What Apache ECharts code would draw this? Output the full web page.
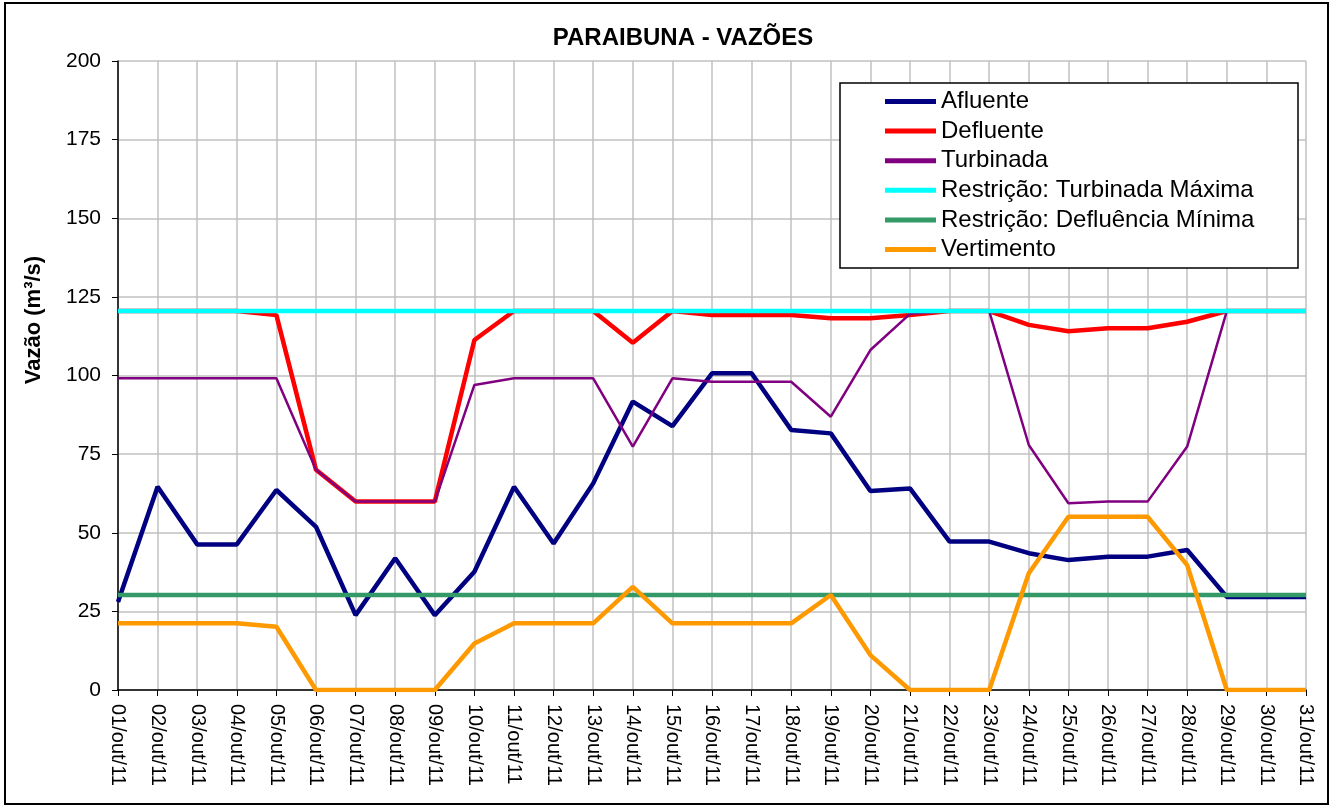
<!DOCTYPE html>
<html lang="pt">
  <head>
    <meta charset="UTF-8" />
    <title>Paraibuna - Vazões</title>
    <script src="https://cdn.jsdelivr.net/npm/echarts@6/dist/echarts.min.js"></script>
    <style>
      html, body { margin: 0; padding: 0; background: #fff; }
      #main { width: 1338px; height: 809px; }
    </style>
  </head>
  <body>
    <div id="main"></div>
    <script type="text/javascript">
      // dias de outubro/2011
      var dias = [];
      for (var d = 1; d <= 31; d++) {
        dias.push((d < 10 ? "0" + d : "" + d) + "/out/11");
      }

      var afluente = [28, 64.6, 46.3, 46.3, 63.6, 51.9, 23.8, 41.9, 23.8, 37.6,
        64.6, 46.6, 65.7, 91.7, 83.9, 100.7, 100.7, 82.7, 81.6, 63.3,
        64.1, 47.2, 47.2, 43.5, 41.3, 42.4, 42.4, 44.5, 29.6, 29.6, 29.6];
      var defluente = [120.5, 120.5, 120.5, 120.5, 119.2, 70, 59.9, 59.9, 59.9, 111.3,
        120.5, 120.5, 120.5, 110.4, 120.5, 119.2, 119.2, 119.2, 118.2, 118.2,
        119.2, 120.5, 120.5, 116.1, 114.1, 115, 115, 117.1, 120.5, 120.5, 120.5];
      var turbinada = [99.1, 99.1, 99.1, 99.1, 99.1, 70, 59.9, 59.9, 59.9, 97,
        99.1, 99.1, 99.1, 77.4, 99.1, 98, 98, 98, 86.9, 108.1,
        119.6, 120.5, 120.5, 77.9, 59.4, 59.9, 59.9, 77.4, 120.5, 120.5, 120.5];
      var turbMaxima = [];
      var deflMinima = [];
      for (var i = 0; i < 31; i++) {
        turbMaxima.push(120.5);
        deflMinima.push(30.2);
      }
      var vertimento = [21.2, 21.2, 21.2, 21.2, 20.1, 0, 0, 0, 0, 14.8,
        21.2, 21.2, 21.2, 32.8, 21.2, 21.2, 21.2, 21.2, 30.2, 11.1,
        0, 0, 0, 37.1, 55.1, 55.1, 55.1, 39.7, 0, 0, 0];

      var fonte = "Liberation Sans, Arial, sans-serif";

      function serie(nome, dados, cor, largura) {
        return {
          name: nome,
          type: "line",
          data: dados,
          symbol: "none",
          smooth: false,
          lineStyle: { color: cor, width: largura },
          itemStyle: { color: cor },
          animation: false
        };
      }

      var myChart = echarts.init(document.getElementById("main"));
      myChart.setOption({
        backgroundColor: "#fff",
        animation: false,
        textStyle: { fontFamily: fonte },
        grid: { left: 118, right: 32, top: 61, bottom: 119 },
        graphic: [
          {
            type: "rect",
            shape: { x: 5, y: 3, width: 1323, height: 801 },
            style: { fill: "none", stroke: "#000", lineWidth: 2 },
            z: 1
          },
          {
            type: "text",
            style: {
              text: "PARAIBUNA - VAZÕES",
              x: 683, y: 38,
              align: "center", verticalAlign: "middle",
              fontSize: 24, fontWeight: "bold", fontFamily: fonte, fill: "#000"
            },
            z: 5
          },
          {
            type: "text",
            x: 34, y: 320,
            rotation: Math.PI / 2,
            style: {
              text: "Vazão (m³/s)",
              x: 0, y: 0,
              align: "center", verticalAlign: "middle",
              fontSize: 22, fontWeight: "bold", fontFamily: fonte, fill: "#000"
            },
            z: 5
          },
          {
            type: "rect",
            shape: { x: 840, y: 83, width: 458, height: 185 },
            style: { fill: "#fff", stroke: "#000", lineWidth: 1.5 },
            z: 3
          }
        ],
        legend: {
          orient: "vertical",
          left: 885,
          top: 89.5,
          padding: 0,
          icon: "rect",
          itemWidth: 51,
          itemHeight: 5,
          itemGap: 5.6,
          z: 6,
          textStyle: { fontSize: 24, lineHeight: 24, color: "#000", fontFamily: fonte },
          data: ["Afluente", "Defluente", "Turbinada",
            "Restrição: Turbinada Máxima", "Restrição: Defluência Mínima", "Vertimento"]
        },
        xAxis: {
          type: "category",
          data: dias,
          boundaryGap: false,
          axisLine: { lineStyle: { color: "#000", width: 1.5 } },
          axisTick: { interval: 0, length: 6, lineStyle: { color: "#000" } },
          axisLabel: {
            interval: 0, rotate: -90, margin: 14,
            fontSize: 20, color: "#000", fontFamily: fonte
          },
          splitLine: { show: true, interval: 0, lineStyle: { color: "#c0c0c0", width: 1.5 } }
        },
        yAxis: {
          type: "value",
          min: 0, max: 200, interval: 25,
          axisLine: { show: true, lineStyle: { color: "#000", width: 1.5 } },
          axisTick: { show: true, length: 6, lineStyle: { color: "#000" } },
          axisLabel: { fontSize: 21, color: "#000", margin: 17, fontFamily: fonte },
          splitLine: { show: true, lineStyle: { color: "#c0c0c0", width: 1.5 } }
        },
        series: [
          serie("Afluente", afluente, "#000080", 4.5),
          serie("Defluente", defluente, "#ff0000", 4.5),
          serie("Turbinada", turbinada, "#800080", 2.5),
          serie("Restrição: Turbinada Máxima", turbMaxima, "#00ffff", 4.5),
          serie("Restrição: Defluência Mínima", deflMinima, "#339966", 4.5),
          serie("Vertimento", vertimento, "#ff9900", 4.5)
        ]
      });
    </script>
  </body>
</html>
